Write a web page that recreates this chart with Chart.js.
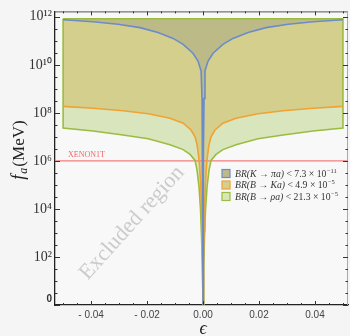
<!DOCTYPE html>
<html><head><meta charset="utf-8">
<script src="https://cdn.jsdelivr.net/npm/chart.js@4/dist/chart.umd.min.js"></script>
<style>html,body{margin:0;padding:0;background:#f5f5f5;}#wrap{width:350px;height:336px;}</style>
</head><body><div id="wrap"><canvas id="c" width="350" height="336"></canvas></div>
<script>
// ---- data ----
const xTicks = [-0.04, -0.02, 0, 0.02, 0.04];
const xTickLabels = ['- 0.04', '- 0.02', '0.00', '0.02', '0.04'];
const yTicks = [1, 1e2, 1e4, 1e6, 1e8, 1e10, 1e12];
const yTickLabels = ['0', '10²', '10⁴', '10⁶', '10⁸', '10¹⁰', '10¹²'];
const regionTop = 8.3e11;      // upper closing edge of the shaded regions
const xenonLimit = 1e6;        // XENON1T line
// half curves (epsilon >= 0), the plot is symmetric about epsilon = 0
const epsK   = [0, 0.00007, 0.00018, 0.00036, 0.0007, 0.0018, 0.0036, 0.0071, 0.0107, 0.0161, 0.0225, 0.0304, 0.0393, 0.05];
const faK    = [1, 3e3, 2.2e6, 4e8, 5.6e9, 1.44e10, 3.05e10, 7.1e10, 1.26e11, 2.2e11, 3.55e11, 4.9e11, 6.2e11, 7.5e11];
const epsB   = [0, 0.00018, 0.00036, 0.0006, 0.0009, 0.00125, 0.0016, 0.00214, 0.00286, 0.0043, 0.0071, 0.0118, 0.0196, 0.0286, 0.0393, 0.05];
const faB    = [1, 4.4e1, 1.2e3, 2e4, 1.3e5, 6.5e5, 1.66e6, 4.7e6, 1e7, 1.94e7, 3.7e7, 6e7, 9.2e7, 1.23e8, 1.55e8, 1.87e8];
const epsRho = [0, 0.00025, 0.00054, 0.00089, 0.00143, 0.00214, 0.00286, 0.00464, 0.0071, 0.0118, 0.0196, 0.0286, 0.0393, 0.05];
const faRho  = [1, 4.4e1, 7.4e2, 9.3e3, 8.2e4, 4.1e5, 1.05e6, 1.86e6, 2.95e6, 4.7e6, 8.3e6, 1.2e7, 1.77e7, 2.34e7];
const legendNames = ['BR(K → πa)', 'BR(B → Ka)', 'BR(B → ρa)'];
const legendBounds = ['7.3', '4.9', '21.3'];
const legendExps = ['−11', '−5', '−5'];

function mirror(eps, fa) {
  const pts = [];
  for (let i = eps.length - 1; i >= 1; i--) pts.push({x: -eps[i], y: fa[i]});
  for (let i = 0; i < eps.length; i++) pts.push({x: eps[i], y: fa[i]});
  return pts;
}
const ptsK = mirror(epsK, faK), ptsB = mirror(epsB, faB), ptsRho = mirror(epsRho, faRho);
const rhoOutline = [{x: -0.05, y: regionTop}].concat(ptsRho, [{x: 0.05, y: regionTop}, {x: -0.05, y: regionTop}]);

const C = {
  fillRho: '#d9e6bd', fillB: '#d5cf8e', fillK: '#bcbb87',
  lineK: '#6b8cc9', lineB: '#f0a232', lineRho: '#9bbc3e', red: '#f37c7c'
};
const XMIN = -0.0529, XMAX = 0.0518;

const deco = {
  id: 'deco',
  beforeDraw(chart) {
    const {ctx, chartArea: a} = chart;
    ctx.save();
    ctx.fillStyle = '#f5f5f5'; ctx.fillRect(0, 0, chart.width, chart.height);
    ctx.fillStyle = '#f8f8f8'; ctx.fillRect(a.left, a.top, a.right - a.left, a.bottom - a.top);
    ctx.restore();
  },
  afterDatasetsDraw(chart) {
    const {ctx, chartArea: a, scales: {x: xs, y: ys}} = chart;
    ctx.save();
    ctx.fillStyle = '#ef6464';
    ctx.font = '8px "Liberation Serif"';
    ctx.textBaseline = 'alphabetic';
    ctx.fillText('XENON1T', 68, ys.getPixelForValue(xenonLimit) - 3.5);
    ctx.save();
    ctx.translate(132, 223);
    ctx.rotate(-48 * Math.PI / 180);
    ctx.fillStyle = '#cbcbcb';
    ctx.font = '22px "Liberation Serif"';
    ctx.textAlign = 'center'; ctx.textBaseline = 'middle';
    ctx.fillText('Excluded region', 0, 0);
    ctx.restore();
    ctx.restore();
  },
  afterDraw(chart) {
    const {ctx, chartArea: a, scales: {x: xs, y: ys}} = chart;
    ctx.save();
    ctx.strokeStyle = '#555'; ctx.lineWidth = 1;
    ctx.beginPath(); ctx.moveTo(a.left, a.top + 0.5); ctx.lineTo(a.right, a.top + 0.5); ctx.stroke();
    ctx.strokeStyle = '#aaa';
    ctx.beginPath(); ctx.moveTo(a.right - 0.5, a.top); ctx.lineTo(a.right - 0.5, a.bottom); ctx.stroke();
    ctx.strokeStyle = '#333'; ctx.lineWidth = 1;
    for (let k = -10; k <= 10; k++) {
      const v = k * 0.005;
      if (v < XMIN || v > XMAX) continue;
      const px = Math.round(xs.getPixelForValue(v)) + 0.5;
      const len = (k % 4 === 0) ? 4 : 2;
      ctx.beginPath(); ctx.moveTo(px, a.bottom); ctx.lineTo(px, a.bottom - len); ctx.stroke();
      ctx.beginPath(); ctx.moveTo(px, a.top); ctx.lineTo(px, a.top + len); ctx.stroke();
    }
    for (let h = 0; h <= 24; h++) {
      const v = Math.pow(10, h / 2);
      const py = Math.round(ys.getPixelForValue(v)) + 0.5;
      if (py < a.top) continue;
      const len = (h % 4 === 0) ? 5 : 2.5;
      ctx.beginPath(); ctx.moveTo(a.left, py); ctx.lineTo(a.left + len, py); ctx.stroke();
      ctx.beginPath(); ctx.moveTo(a.right, py); ctx.lineTo(a.right - len, py); ctx.stroke();
    }
    const fills = [C.fillK, C.fillB, C.fillRho];
    const strokes = [C.lineK, C.lineB, C.lineRho];
    for (let i = 0; i < 3; i++) {
      const cy = 173.5 + i * 11.5;
      ctx.fillStyle = fills[i]; ctx.fillRect(222, cy - 4, 8, 8);
      ctx.strokeStyle = strokes[i]; ctx.lineWidth = 1.2; ctx.strokeRect(222, cy - 4, 8, 8);
      let tx = 235;
      const base = cy + 3;
      ctx.fillStyle = '#333';
      ctx.font = 'italic 9.7px "Liberation Serif"';
      ctx.fillText(legendNames[i], tx, base); tx += ctx.measureText(legendNames[i]).width;
      ctx.font = '9.7px "Liberation Serif"';
      const mid = ' < ' + legendBounds[i] + ' × 10';
      ctx.fillText(mid, tx, base); tx += ctx.measureText(mid).width;
      ctx.font = '6.5px "Liberation Serif"';
      ctx.fillText(legendExps[i], tx + 0.5, base - 4);
    }
    ctx.fillStyle = '#222';
    ctx.textBaseline = 'alphabetic';
    ctx.save();
    ctx.translate(24, 150);
    ctx.rotate(-Math.PI / 2);
    ctx.font = 'italic 18px "Liberation Serif"';
    const wF = ctx.measureText('f').width;
    ctx.font = 'italic 12px "Liberation Serif"';
    const wA = ctx.measureText('a').width;
    ctx.font = '17px "Liberation Serif"';
    const wM = ctx.measureText('(MeV)').width;
    let sx = -(wF + wA + wM + 2) / 2;
    ctx.font = 'italic 18px "Liberation Serif"'; ctx.fillText('f', sx, 0); sx += wF + 1;
    ctx.font = 'italic 12px "Liberation Serif"'; ctx.fillText('a', sx, 3); sx += wA + 1;
    ctx.font = '17px "Liberation Serif"'; ctx.fillText('(MeV)', sx, 0);
    ctx.restore();
    ctx.font = 'italic 18px "Liberation Serif"';
    ctx.textAlign = 'center';
    ctx.fillText('ϵ', xs.getPixelForValue(0), 334);
    ctx.restore();
  }
};

new Chart(document.getElementById('c'), {
  type: 'line',
  data: {
    datasets: [
      {data: ptsRho, fill: {value: regionTop}, backgroundColor: C.fillRho, borderWidth: 0, order: 7},
      {data: ptsB, fill: {value: regionTop}, backgroundColor: C.fillB, borderWidth: 0, order: 6},
      {data: ptsK, fill: {value: regionTop}, backgroundColor: C.fillK, borderWidth: 0, order: 5},
      {data: [{x: XMIN, y: xenonLimit}, {x: XMAX, y: xenonLimit}], borderColor: C.red, borderWidth: 1.3, fill: false, order: 4},
      {data: rhoOutline, borderColor: C.lineRho, borderWidth: 1.6, fill: false, order: 3},
      {data: ptsB, borderColor: C.lineB, borderWidth: 1.6, fill: false, order: 2},
      {data: ptsK, borderColor: C.lineK, borderWidth: 1.6, fill: false, order: 1}
    ]
  },
  options: {
    responsive: false, animation: false, devicePixelRatio: 1,
    layout: {padding: {top: 6.5, right: 2, left: 0, bottom: 0}},
    plugins: {legend: {display: false}, tooltip: {enabled: false}},
    elements: {point: {radius: 0}, line: {tension: 0}},
    scales: {
      x: {
        type: 'linear', min: XMIN, max: XMAX,
        afterBuildTicks: s => { s.ticks = xTicks.map(v => ({value: v})); },
        afterFit: s => { s.height = 31; },
        grid: {display: false, drawTicks: false},
        border: {display: true, color: '#222', width: 1.3},
        ticks: {
          padding: 4, color: '#444', maxRotation: 0, autoSkip: false,
          font: {family: '"Liberation Sans"', size: 10},
          callback: v => { const i = xTicks.findIndex(t => Math.abs(t - v) < 1e-9); return i >= 0 ? xTickLabels[i] : ''; }
        }
      },
      y: {
        type: 'logarithmic', min: 1, max: 1.68e12,
        afterBuildTicks: s => { s.ticks = yTicks.map(v => ({value: v})); },
        afterFit: s => { s.width = 55; },
        grid: {display: false, drawTicks: false},
        border: {display: true, color: '#222', width: 1.3},
        ticks: {
          padding: 3, color: '#333', autoSkip: false,
          font: ctx => (ctx.tick && ctx.tick.value === 1) ? {family: '"Liberation Sans"', size: 10, weight: 'bold'} : {family: '"Liberation Serif"', size: 14},
          callback: v => { const i = yTicks.findIndex(t => Math.abs(t - v) / t < 1e-9); if (i < 0) return ''; return i === 0 ? ['0', ''] : yTickLabels[i]; }
        }
      }
    }
  },
  plugins: [deco]
});
</script></body></html>
